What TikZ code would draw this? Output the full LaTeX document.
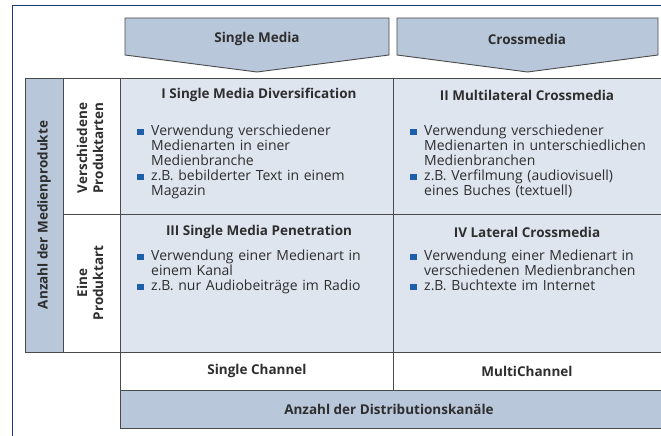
\documentclass[tikz,border=0pt]{standalone}
\usepackage{fontspec}
\setmainfont{Open Sans}
\definecolor{frameblue}{HTML}{1B3A7B}
\definecolor{darkfill}{HTML}{B9C7DB}
\definecolor{lightfill}{HTML}{DFE5EF}
\definecolor{bulblue}{HTML}{1E5FAA}
\definecolor{txt}{HTML}{2E2E2E}
\definecolor{edge}{HTML}{4A4A4A}
\newcommand\itm[1]{\par\hangindent=14pt\hangafter=1\noindent\makebox[14pt][l]{\textcolor{bulblue}{\rule{6.5pt}{6.5pt}}}#1\par}

\begin{document}
\begin{tikzpicture}[x=1pt,y=-1pt,
	cell/.style={draw=edge,line width=.9pt},
	head/.style={font=\fontsize{13.5}{16}\selectfont\bfseries,text=txt,inner sep=0pt},
	body/.style={font=\fontsize{14}{15}\selectfont,text=txt,anchor=north west,
		text width=265pt,align=left,inner sep=0pt}]
		\useasboundingbox (0,0) rectangle (661,436);
		\fill[white] (0,0) rectangle (661,436);
		\draw[frameblue,line width=.8pt] (12,436)--(12,5)--(661,5);
		\foreach \xa/\xb in {125/389,397/658}
		{
			\filldraw[cell,fill=darkfill] (\xa,18)--(\xb,18)--(\xb,55)
			--({(\xa+\xb)/2},72)--(\xa,55)--cycle;
		}
		\filldraw[cell,fill=darkfill] (25,78) rectangle (63,352);
		\filldraw[cell,fill=white] (63,78) rectangle (120,214);
		\filldraw[cell,fill=white] (63,214) rectangle (120,352);
		\foreach \ya/\yb in {78/214,214/352}
		{
			\filldraw[cell,fill=lightfill] (120,\ya) rectangle (393,\yb);
			\filldraw[cell,fill=lightfill] (393,\ya) rectangle (666,\yb);
		}
		\filldraw[cell,fill=white] (120,352) rectangle (393,390);
		\filldraw[cell,fill=white] (393,352) rectangle (666,390);
		\filldraw[cell,fill=darkfill] (120,390) rectangle (666,428);
		
		\node[head] (singlemedia) at (257,39) {Single Media};
		\node[head] (crossmedia) at (527,39) {Crossmedia};
		\node[head,rotate=90] (anzahlprod) at (44,215) {Anzahl der Medienprodukte};
		\node[head,rotate=90,align=center] (verschiedene) at (90,148) {Verschiedene\\Produktarten};
		\node[head,rotate=90,align=center] (eine) at (90,283) {Eine\\Produktart};
		
		\node[head] (titleI) at (259,95) {I Single Media Diversification};
		\node[body] (listI) at (137,120) {\itm{Verwendung verschiedener\newline Medienarten in einer\newline Medienbranche}
			\itm{z.B. bebilderter Text in einem\newline Magazin}};
		\node[head] (titleII) at (527,95) {II Multilateral Crossmedia};
		\node[body] (listII) at (410,120) {\itm{Verwendung verschiedener\newline Medienarten in unterschiedlichen\newline Medienbranchen}
			\itm{z.B. Verfilmung (audiovisuell)\newline eines Buches (textuell)}};
		\node[head] (titleIII) at (259,232) {III Single Media Penetration};
		\node[body] (listIII) at (137,245) {\itm{Verwendung einer Medienart in\newline einem Kanal}
			\itm{z.B. nur Audiobeiträge im Radio}};
		\node[head] (titleIV) at (527,232) {IV Lateral Crossmedia};
		\node[body] (listIV) at (410,245) {\itm{Verwendung einer Medienart in\newline verschiedenen Medienbranchen}
			\itm{z.B. Buchtexte im Internet}};
		
		\node[head] (singlechannel) at (257,371) {Single Channel};
		\node[head] (multichannel) at (527,371) {MultiChannel};
		\node[head] (anzahldist) at (389,409) {Anzahl der Distributionskanäle};
	\end{tikzpicture}
\end{document}
